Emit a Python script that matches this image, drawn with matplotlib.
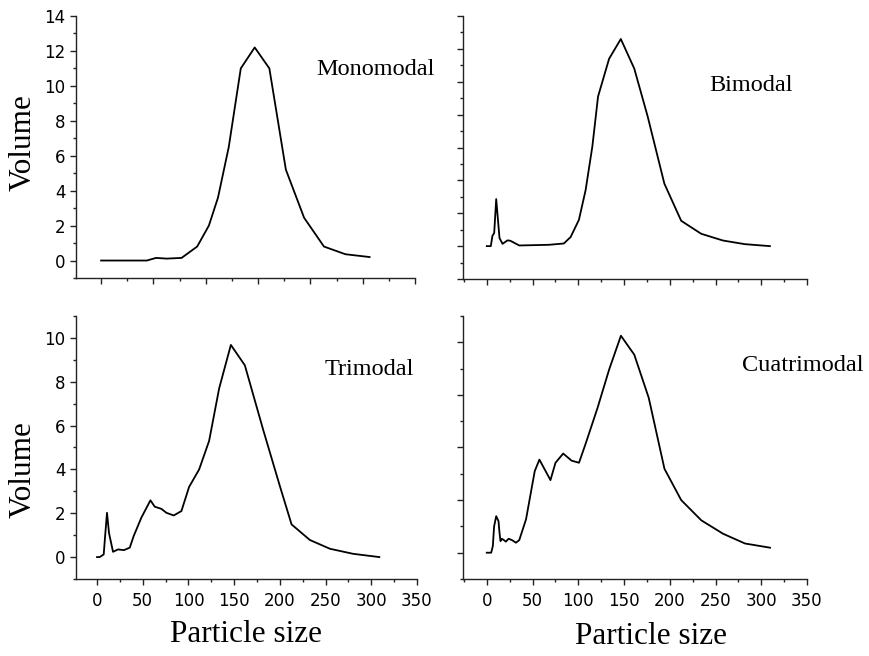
import matplotlib
matplotlib.use("Agg")
import matplotlib.pyplot as plt
from matplotlib.ticker import MultipleLocator

# Monomodal (top left)
mono_x = [0, 43.7, 52.5, 62.7, 76.9, 91.8, 103, 111.7, 122, 133.5, 146.8,
          160.8, 176.6, 194, 213, 233.5, 256.6]
mono_y = [0, 0, 0.15, 0.11, 0.15, 0.8, 2.0, 3.6, 6.5, 11.0, 12.2,
          11.0, 5.2, 2.45, 0.8, 0.36, 0.2]

# Bimodal (top right)
bi_x = [0, 4.4, 6.2, 8.1, 10.3, 13.9, 17.2, 22.7, 25.6, 35.5, 67.8, 84.2,
        91.6, 100.7, 108, 115.4, 121.6, 133.7, 146.5, 161.2, 175.8, 194.1,
        212.5, 234.4, 258.2, 282, 309.5]
bi_y = [0, 0, 0.63, 0.8, 2.86, 0.49, 0.14, 0.35, 0.33, 0.04, 0.08, 0.16,
        0.55, 1.6, 3.4, 6.07, 9.1, 11.4, 12.6, 10.8, 7.9, 3.8,
        1.54, 0.75, 0.34, 0.12, 0.0]

# Trimodal (bottom left)
tri_x = [0, 2.9, 7.3, 8.8, 10.9, 13.1, 17.5, 23, 26.5, 29.6, 35.8, 40.1,
         48.5, 58.4, 63.1, 70.4, 75.9, 83.9, 92.3, 100.7, 111.7, 122.6,
         133.6, 146.4, 161.7, 181.8, 200, 212.8, 232.8, 254.7, 280, 308.8]
tri_y = [0, 0, 0.12, 0.93, 2.02, 1.1, 0.24, 0.35, 0.33, 0.32, 0.43, 0.96,
         1.8, 2.59, 2.3, 2.2, 2.02, 1.9, 2.1, 3.2, 4.0, 5.3,
         7.7, 9.68, 8.75, 5.8, 3.24, 1.49, 0.78, 0.38, 0.15, 0.0]

# Cuatrimodal (bottom right)
cua_x = [0, 4.8, 6.6, 8, 10.3, 12.8, 13.9, 15, 16.5, 18.7, 20.8, 23.8, 27.5,
         31.9, 35.5, 42.9, 52.4, 57.5, 69.6, 75.1, 83.5, 92.7, 100.8, 108.1,
         121, 133.7, 146.6, 161.2, 177, 194.2, 212.5, 234.5, 258.3, 282.2,
         309.6]
cua_y = [0, 0, 0.25, 1.0, 1.39, 1.2, 0.76, 0.44, 0.53, 0.48, 0.42, 0.53, 0.48,
         0.38, 0.48, 1.27, 3.1, 3.54, 2.76, 3.42, 3.77, 3.5, 3.42, 4.15,
         5.5, 6.96, 8.25, 7.53, 5.89, 3.19, 2.0, 1.23, 0.72, 0.35,
         0.19]

labels = ["Monomodal", "Bimodal", "Trimodal", "Cuatrimodal"]

W, H = 869, 656
fig = plt.figure(figsize=(W / 100, H / 100), dpi=100)


def px_axes(x0, y0, x1, y1):
    return fig.add_axes([x0 / W, 1 - y1 / H, (x1 - x0) / W, (y1 - y0) / H])


sans = "DejaVu Sans"
serif = "Liberation Serif"

panels = [
    # (box px, data, xlim, ylim, y labels?, x labels?, text pos)
    ((76, 16, 415, 278), mono_x, mono_y, (-24, 300), (-1, 14), True, False, (0.708, 0.794)),
    ((463, 16, 807, 279), bi_x, bi_y, (-26, 350), (-2, 14), False, False, (0.715, 0.735)),
    ((76, 316, 417, 579), tri_x, tri_y, (-23, 350), (-1, 11), True, True, (0.730, 0.798)),
    ((463, 316, 807, 579), cua_x, cua_y, (-26, 350), (-1, 9), False, True, (0.811, 0.81)),
]

for (box, xs, ys, xl, yl, ylab, xlab, tpos), name in zip(panels, labels):
    ax = px_axes(*box)
    ax.plot(xs, ys, color="black", lw=1.3)
    ax.set_xlim(*xl)
    ax.set_ylim(*yl)
    ax.spines["top"].set_visible(False)
    ax.spines["right"].set_visible(False)
    for s in ("left", "bottom"):
        ax.spines[s].set_linewidth(1.0)
        ax.spines[s].set_color("#222222")
    ax.xaxis.set_major_locator(MultipleLocator(50))
    ax.xaxis.set_minor_locator(MultipleLocator(25))
    ax.yaxis.set_major_locator(MultipleLocator(2))
    ax.yaxis.set_minor_locator(MultipleLocator(1))
    ax.tick_params(which="major", direction="out", length=4.5, width=1.0,
                   color="#222222", labelsize=12, pad=3)
    ax.tick_params(which="minor", direction="out", length=2.5, width=1.0,
                   color="#222222")
    ax.tick_params(axis="x", pad=5)
    if not ylab:
        ax.tick_params(axis="y", labelleft=False)
    if not xlab:
        ax.tick_params(axis="x", labelbottom=False)
    for t in ax.get_xticklabels() + ax.get_yticklabels():
        t.set_fontfamily(sans)
    ax.text(tpos[0], tpos[1], name, transform=ax.transAxes, ha="left",
            va="center", fontsize=17.5, family=serif, clip_on=False)

fig.text(23 / W, 1 - 143 / H, "Volume", rotation=90, ha="center", va="center",
         fontsize=22.5, family=serif)
fig.text(23 / W, 1 - 470 / H, "Volume", rotation=90, ha="center", va="center",
         fontsize=22.5, family=serif)
fig.text(246 / W, 1 - 634 / H, "Particle size", ha="center", va="center",
         fontsize=22.5, family=serif)
fig.text(651 / W, 1 - 637 / H, "Particle size", ha="center", va="center",
         fontsize=22.5, family=serif)

fig.savefig("out.png", dpi=100)
